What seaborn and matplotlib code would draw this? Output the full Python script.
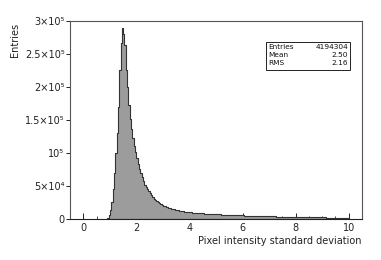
import numpy as np
import pandas as pd
import matplotlib
matplotlib.use("Agg")
import matplotlib.pyplot as plt
import matplotlib.ticker as mticker
from matplotlib.patches import Rectangle
import seaborn as sns

# ---- data (bin counts, thousands of entries, 0.05-wide bins starting at 0.90) ----
bin_start = 0.90
bin_width = 0.05
counts_peak = [2, 6, 14, 26, 45, 70, 100, 130, 170, 226, 266, 289, 281, 264,
               226, 200, 172, 152, 136, 123, 111, 101]
counts_mid = [92, 84, 76, 69, 63, 57, 52, 48, 45, 42.5]
counts_shoulder = [40, 36, 33, 30.5, 28.5, 26.5, 25, 23.5, 22.5, 21,
                   20, 19, 18.2, 17.4, 16.7, 16, 15.4, 14.8, 14.3, 13.8,
                   13.3, 12.9, 12.5, 12.1, 11.8, 11.4, 11.1, 10.8, 10.5, 10.3]
counts_tail = [10.0, 9.8, 9.6, 9.4, 9.2, 9.0, 8.9, 8.8, 8.7, 8.6,
               8.4, 8.2, 8.0, 7.9, 7.8, 7.6, 7.5, 7.4, 7.3, 7.2,
               7.1, 7.0, 6.9, 6.8, 6.7, 6.6, 6.5, 6.4, 6.3, 6.2,
               6.1, 6.0, 5.9, 5.8, 5.7, 5.6, 5.5, 5.45, 5.4, 5.3,
               5.2, 5.1, 5.0, 4.95, 4.9, 4.8, 4.75, 4.7, 4.6, 4.55,
               4.5, 4.45, 4.4, 4.3, 4.25, 4.2, 4.1, 4.05, 4.0, 3.95,
               3.9, 3.85, 3.8, 3.75, 3.7, 3.65, 3.6, 3.55, 3.5, 3.45,
               3.4, 3.35, 3.3, 3.25, 3.2, 3.15, 3.1, 3.05, 3.0, 2.95,
               2.9, 2.87, 2.84, 2.8, 2.77, 2.74, 2.7, 2.67, 2.64, 2.6,
               2.57, 2.54, 2.5, 2.47, 2.44, 2.4, 2.37, 2.34, 2.3, 2.27,
               2.24, 2.21, 2.18, 2.15, 2.12, 2.1, 2.08, 2.06, 2.04, 2.02,
               2.0, 1.98, 1.96, 1.94, 1.92, 1.9, 1.88, 1.86, 1.84, 1.82]

x_ticks = [0, 2, 4, 6, 8, 10]
y_ticks = [0, 50000, 100000, 150000, 200000, 250000, 300000]
y_tick_labels = ["0", "5×10⁴", "10⁵", "1.5×10⁵", "2×10⁵", "2.5×10⁵", "3×10⁵"]
stats_names = ["Entries", "Mean", "RMS"]
stats_values = ["4194304", "2.50", "2.16"]
x_label = "Pixel intensity standard deviation"
y_label = "Entries"

counts = np.array(counts_peak + counts_mid + counts_shoulder + counts_tail) * 1000.0
n_bins = len(counts)
edges = [float(v) for v in np.round(bin_start + bin_width * np.arange(n_bins + 1), 4)]
centers = [(edges[i] + edges[i + 1]) / 2 for i in range(n_bins)]
df = pd.DataFrame({"x": centers, "w": counts})

sns.set_style("white")
plt.rcParams["font.family"] = ["DejaVu Sans"]

fig = plt.figure(figsize=(3.81, 2.60), dpi=100)
ax = fig.add_axes([0.184, 0.158, 0.766, 0.761])

sns.histplot(data=df, x="x", weights="w", bins=edges, element="step", fill=True,
             color="#9c9c9c", alpha=1.0, edgecolor="#333333", linewidth=0.8, ax=ax)

ax.set_xlim(-0.5, 10.5)
ax.set_ylim(0, 300000)
ax.set_xticks(x_ticks)
ax.set_xticklabels([str(t) for t in x_ticks])
ax.xaxis.set_minor_locator(mticker.MultipleLocator(0.5))
ax.set_yticks(y_ticks)
ax.set_yticklabels(y_tick_labels)

ax.tick_params(axis="x", which="major", direction="in", length=4, width=0.7,
               labelsize=7, pad=3, colors="#222222")
ax.tick_params(axis="x", which="minor", direction="in", length=2, width=0.6,
               colors="#222222")
ax.tick_params(axis="y", which="major", direction="out", length=3, width=0.7,
               labelsize=7, pad=1, colors="#222222")
ax.tick_params(left=True, bottom=True, which="both")

for s in ax.spines.values():
    s.set_visible(True)
    s.set_color("#555555")
    s.set_linewidth(0.8)
ax.spines["bottom"].set_color("#222222")

ax.set_xlabel(x_label, fontsize=7, loc="right", labelpad=2, color="#222222")
ax.set_ylabel(y_label, fontsize=7, color="#222222", ha="right")
ax.yaxis.set_label_coords(-0.17, 0.99)

# stats box
ax.add_patch(Rectangle((0.671, 0.753), 0.288, 0.141, transform=ax.transAxes,
                       fill=True, facecolor="white", edgecolor="#222222",
                       linewidth=0.7, zorder=5))
ys = [0.869, 0.828, 0.787]
for name, val, yy in zip(stats_names, stats_values, ys):
    ax.text(0.680, yy, name, transform=ax.transAxes, fontsize=5.3,
            va="center", ha="left", zorder=6, color="#111111")
    ax.text(0.952, yy, val, transform=ax.transAxes, fontsize=5.3,
            va="center", ha="right", zorder=6, color="#111111")

fig.savefig("out.png", dpi=100)
